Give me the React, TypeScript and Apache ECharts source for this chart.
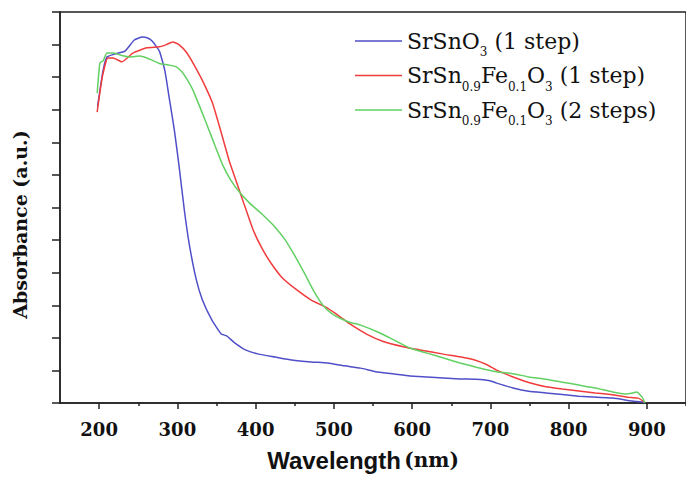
import React, { useEffect, useRef } from "react";
import * as echarts from "echarts";

const xLabelTicks = [200, 300, 400, 500, 600, 700, 800, 900];
const xMinorTicks = [250, 350, 450, 550, 650, 750, 850, 950];
const seriesNames = ["SrSnO3 (1 step)", "SrSn0.9Fe0.1O3 (1 step)", "SrSn0.9Fe0.1O3 (2 steps)"];
const legendRich: Record<string, string> = {
  "SrSnO3 (1 step)": "SrSnO{s|3} (1 step)",
  "SrSn0.9Fe0.1O3 (1 step)": "SrSn{s|0.9}Fe{s|0.1}O{s|3} (1 step)",
  "SrSn0.9Fe0.1O3 (2 steps)": "SrSn{s|0.9}Fe{s|0.1}O{s|3} (2 steps)",
};
const seriesColors = ["#4f4fc9", "#f03c3c", "#62d062"];

const blueData = [
  [198, 9.1], [205, 10.2], [210, 10.62], [220, 10.71], [233, 10.8], [245, 11.14], [255, 11.23],
  [262, 11.2], [268, 11.1], [277, 10.8], [284, 10.2], [290, 9.3], [296, 8.4], [302, 7.3],
  [309, 5.9], [315, 4.9], [324, 3.8], [332, 3.16], [344, 2.55], [356, 2.12], [363, 2.06],
  [372, 1.87], [387, 1.63], [404, 1.5], [425, 1.41], [446, 1.32], [471, 1.26], [492, 1.23],
  [514, 1.14], [534, 1.07], [556, 0.95], [577, 0.89], [597, 0.83], [619, 0.8], [640, 0.77],
  [661, 0.74], [682, 0.73], [698, 0.69], [708, 0.61], [729, 0.46], [749, 0.36], [771, 0.31],
  [813, 0.21], [856, 0.15], [881, 0.06], [897, 0.02],
];

const redData = [
  [197.5, 8.93], [204, 10.0], [211, 10.59], [218, 10.59], [229, 10.47], [243, 10.74],
  [261, 10.9], [277, 10.93], [286, 11.0], [294, 11.08], [302, 11.0], [312, 10.75],
  [322, 10.35], [333, 9.85], [345, 9.2], [356, 8.3], [366, 7.45], [376, 6.75], [386, 6.05],
  [397, 5.3], [408, 4.75], [420, 4.28], [433, 3.87], [451, 3.5], [471, 3.16], [489, 2.95],
  [505, 2.7], [521, 2.42], [543, 2.1], [564, 1.88], [590, 1.72], [610, 1.63], [640, 1.5],
  [661, 1.42], [680, 1.32], [695, 1.18], [708, 1.01], [729, 0.8], [749, 0.63], [771, 0.5],
  [792, 0.43], [813, 0.37], [834, 0.31], [856, 0.25], [876, 0.18], [889, 0.15], [897, 0.03],
];

const greenData = [
  [197.5, 9.51], [201, 10.44], [205, 10.5], [210, 10.74], [218, 10.74], [227, 10.68],
  [239, 10.62], [252, 10.65], [261, 10.59], [267, 10.53], [277, 10.42], [290, 10.37],
  [299, 10.31], [306, 10.16], [312, 9.95], [319, 9.65], [326, 9.25], [336, 8.65], [348, 7.9],
  [358, 7.3], [368, 6.85], [380, 6.45], [393, 6.12], [408, 5.8], [424, 5.42], [438, 5.0],
  [450, 4.52], [462, 4.0], [474, 3.45], [486, 3.0], [497, 2.75], [508, 2.6], [520, 2.48],
  [534, 2.39], [556, 2.18], [577, 1.93], [597, 1.69], [619, 1.53], [640, 1.38], [661, 1.23],
  [682, 1.1], [708, 0.96], [729, 0.9], [749, 0.8], [771, 0.73], [792, 0.64], [813, 0.55],
  [834, 0.46], [856, 0.34], [872, 0.28], [882, 0.31], [887, 0.34], [894, 0.18], [897.5, 0.0],
];

const allData = [blueData, redData, greenData];

const serif = "DejaVu Serif";
const sans = "Liberation Sans";
const axisColor = "#222";

export default function App() {
  const ref = useRef<HTMLDivElement>(null);
  useEffect(() => {
    const chart = echarts.init(ref.current!, null, { renderer: "svg" });
    chart.setOption({
      animation: false,
      backgroundColor: "#fff",
      grid: { left: 60, top: 12, width: 631.5, height: 391, show: true, borderColor: axisColor, borderWidth: 1.5, backgroundColor: "transparent" },
      legend: {
        orient: "vertical",
        left: 355,
        top: 24,
        padding: 0,
        itemGap: 0.5,
        itemWidth: 47,
        itemHeight: 1.5,
        icon: "rect",
        data: seriesNames,
        formatter: (name: string) => legendRich[name] || name,
        textStyle: {
          fontFamily: serif,
          fontSize: 22,
          color: "#111",
          lineHeight: 34,
          rich: {
            s: { fontFamily: serif, fontSize: 12, color: "#111", lineHeight: 8, verticalAlign: "bottom" },
          },
        },
      },
      xAxis: [
        {
          type: "value",
          min: 150,
          max: 950,
          interval: 50,
          position: "bottom",
          name: "{a|Wavelength} {b|(nm)}",
          nameLocation: "middle",
          nameGap: 45,
          nameTextStyle: {
            padding: [0, 20, 0, 0],
            rich: {
              a: { fontFamily: sans, fontWeight: "bold", fontSize: 24, color: "#111" },
              b: { fontFamily: serif, fontWeight: "bold", fontSize: 20, color: "#111" },
            },
          },
          axisLine: { show: true, onZero: false, lineStyle: { color: axisColor, width: 1.5 } },
          axisTick: { show: true, customValues: xLabelTicks, length: 6, inside: false, lineStyle: { color: axisColor, width: 1.5 } },
          axisLabel: {
            show: true,
            customValues: xLabelTicks,
            margin: 17,
            fontFamily: serif,
            fontWeight: "bold",
            fontSize: 18,
            color: "#111",
          },
          splitLine: { show: false },
        },
        {
          type: "value",
          min: 150,
          max: 950,
          interval: 50,
          position: "bottom",
          axisLine: { show: false },
          axisTick: { show: true, customValues: xMinorTicks, length: 3, inside: false, lineStyle: { color: axisColor, width: 1.5 } },
          axisLabel: { show: false },
          splitLine: { show: false },
        },
      ],
      yAxis: {
        type: "value",
        min: 0,
        max: 12,
        interval: 1,
        name: "Absorbance (a.u.)",
        nameLocation: "middle",
        nameGap: 31,
        nameTextStyle: { fontFamily: serif, fontWeight: "bold", fontSize: 19, color: "#111", padding: [0, 34, 0, 0] },
        axisLine: { show: true, onZero: false, lineStyle: { color: axisColor, width: 1.5 } },
        axisTick: { show: true, length: 8, inside: false, lineStyle: { color: axisColor, width: 1.5 } },
        axisLabel: { show: false },
        splitLine: { show: false },
      },
      series: seriesNames.map((name, i) => ({
        name,
        type: "line",
        xAxisIndex: 0,
        yAxisIndex: 0,
        data: allData[i],
        showSymbol: false,
        smooth: 0.15,
        itemStyle: { color: seriesColors[i] },
        lineStyle: { color: seriesColors[i], width: 1.5 },
      })),
    });
    return () => chart.dispose();
  }, []);
  return (
    <div
      ref={ref}
      style={{ position: "fixed", left: 0, top: 0, width: 686, height: 479, background: "#fff" }}
    />
  );
}
